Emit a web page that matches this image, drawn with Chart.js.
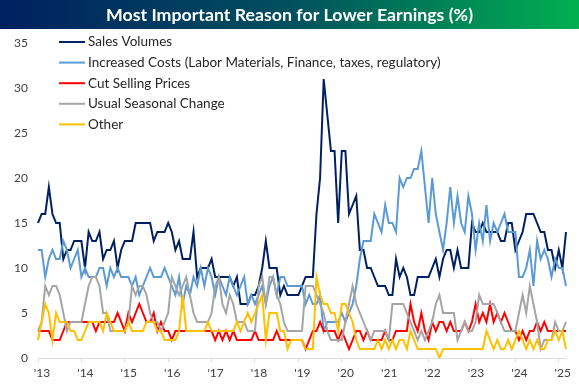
<!DOCTYPE html>
<html>
<head>
<meta charset="utf-8">
<script src="https://cdn.jsdelivr.net/npm/chart.js@4.4.1/dist/chart.umd.min.js"></script>
<style>
  html, body { margin: 0; padding: 0; background: #fff; }
</style>
</head>
<body>
<canvas id="Chart" width="579" height="390"></canvas>
<script>
// Year tick labels (one per January)
const tickLabels = ["'13", "'14", "'15", "'16", "'17", "'18", "'19", "'20", "'21", "'22", "'23", "'24", "'25"];

// Monthly series, Jan 2013 .. Mar 2025 (%)
const salesVolumes = [
  15, 16, 16, 19, 16, 15, 15, 11, 12, 12, 13, 13,
  13, 10, 14, 13, 13, 14, 11, 12, 12, 13, 10, 12,
  13, 13, 13, 15, 15, 15, 15, 15, 13, 14, 14, 14,
  15, 14, 12, 13, 11, 11, 11, 14, 9, 10, 10, 10,
  11, 9, 9, 9, 9, 9, 8, 9, 6, 6, 6, 7,
  7, 8, 10, 13, 10, 10, 10, 7, 8, 7, 7, 7,
  7, 8, 9, 9, 9, 16, 20, 31, 27, 23, 23, 15,
  23, 23, 16, 17, 18, 12, 12, 10, 10, 9, 8, 8,
  8, 7, 7, 11, 9, 10, 9, 7, 7, 9, 9, 9,
  9, 10, 11, 9, 11, 12, 12, 10, 12, 10, 10, 10,
  15, 14, 14, 15, 14, 14, 14, 14, 13, 13, 15, 15,
  12, 13, 14, 16, 16, 16, 15, 14, 14, 12, 12, 10,
  12, 10, 14
];
const increasedCosts = [
  12, 12, 9, 11, 12, 11, 11, 13, 12, 10, 11, 12,
  9, 10, 9, 9, 9, 10, 10, 8, 10, 9, 10, 9,
  9, 9, 8, 9, 7, 8, 9, 10, 9, 9, 9, 10,
  9, 8, 7, 9, 6, 8, 7, 9, 8, 10, 8, 10,
  9, 7, 9, 8, 7, 9, 8, 7, 8, 9, 6, 7,
  6, 7, 8, 6, 8, 9, 7, 9, 9, 8, 8, 8,
  8, 8, 6, 7, 6, 6, 7, 3, 4, 4, 4, 4,
  5, 4, 5, 6, 8, 11, 13, 13, 13, 16, 15, 14,
  17, 15, 15, 14, 20, 19, 20, 20, 21, 21, 23, 19,
  15, 20, 16, 14, 12, 15, 19, 15, 18, 15, 14, 18,
  16, 12, 15, 13, 17, 13, 15, 14, 15, 16, 14, 14,
  14, 9, 9, 10, 12, 8, 13, 11, 12, 11, 9, 11,
  10, 10, 8
];
const cutSellingPrices = [
  3, 3, 3, 3, 2, 2, 2, 3, 4, 4, 4, 4,
  4, 4, 4, 4, 3, 4, 4, 4, 4, 4, 5, 4,
  3, 5, 4, 5, 6, 5, 4, 4, 5, 3, 4, 3,
  3, 2, 3, 3, 3, 3, 3, 3, 3, 3, 3, 3,
  3, 2, 3, 2, 3, 2, 3, 2, 2, 2, 2, 2,
  3, 2, 2, 2, 2, 2, 3, 2, 2, 2, 2, 2,
  2, 2, 1, 2, 3, 3, 4, 3, 3, 3, 3, 2,
  3, 2, 1, 2, 3, 3, 2, 3, 2, 2, 2, 2,
  3, 2, 2, 3, 3, 3, 3, 6, 4, 3, 5, 3,
  2, 4, 3, 4, 4, 3, 4, 3, 3, 3, 4, 3,
  4, 6, 4, 5, 4, 6, 4, 5, 4, 5, 4, 3,
  3, 2, 3, 2, 3, 3, 4, 3, 4, 3, 3, 3,
  3, 3, 3
];
const seasonalChange = [
  3, 4, 8, 7, 8, 8, 7, 5, 3, 4, 4, 4,
  4, 6, 8, 9, 9, 8, 5, 5, 3, 3, 3, 3,
  3, 4, 8, 7, 8, 8, 7, 5, 4, 4, 3, 4,
  5, 9, 8, 7, 8, 9, 7, 5, 4, 4, 4, 4,
  5, 8, 9, 6, 5, 7, 6, 4, 4, 4, 3, 3,
  3, 8, 9, 6, 9, 9, 7, 6, 4, 3, 3, 3,
  3, 3, 8, 8, 8, 7, 6, 5, 3, 2, 2, 2,
  2, 4, 6, 8, 6, 5, 4, 3, 2, 3, 3, 3,
  3, 2, 6, 6, 6, 6, 5, 4, 3, 2, 3, 2,
  3, 4, 6, 7, 5, 5, 5, 5, 2, 3, 4, 3,
  3, 4, 7, 6, 6, 6, 6, 5, 4, 3, 3, 3,
  3, 5, 7, 5, 8, 6, 4, 1, 2, 2, 2, 4,
  3, 3, 4
];
const otherReasons = [
  2, 4, 6, 5, 2, 5, 4, 4, 4, 3, 3, 2,
  2, 3, 4, 4, 4, 4, 3, 5, 4, 3, 3, 3,
  3, 4, 3, 3, 3, 3, 4, 4, 4, 3, 3, 2,
  2, 2, 2, 3, 7, 3, 3, 3, 3, 3, 3, 4,
  3, 3, 3, 3, 3, 3, 3, 4, 3, 4, 5, 4,
  5, 6, 7, 2, 5, 5, 5, 3, 3, 1, 2, 2,
  2, 2, 1, 1, 1, 9, 7, 6, 6, 5, 5, 3,
  6, 6, 5, 4, 2, 1, 1, 1, 1, 1, 2, 1,
  2, 1, 2, 1, 2, 2, 1, 3, 2, 1, 1, 1,
  1, 1, 1, 0, 1, 1, 1, 1, 1, 1, 1, 1,
  1, 1, 1, 1, 3, 2, 1, 2, 1, 1, 2, 1,
  2, 3, 2, 1, 2, 1, 2, 1, 1, 2, 2, 3,
  2, 3, 1
];

const seriesNames = [
  'Sales Volumes',
  'Increased Costs (Labor Materials, Finance, taxes, regulatory)',
  'Cut Selling Prices',
  'Usual Seasonal Change',
  'Other'
];
const seriesColors = ['#002060', '#5B9BD5', '#FF0000', '#A5A5A5', '#FFC000'];
const seriesData = [salesVolumes, increasedCosts, cutSellingPrices, seasonalChange, otherReasons];

// one label per month
const months = salesVolumes.map((v, i) => (2013 + Math.floor(i / 12)) + '-' + (i % 12 + 1));

const FONT = 'Lato, "Open Sans", sans-serif';

// fit a font size so text reaches about the wanted width
function fitFont(ctx, text, width, weight, start) {
  let size = start;
  ctx.font = weight + ' ' + size + 'px ' + FONT;
  while (size > 6 && ctx.measureText(text).width > width) {
    size -= 0.25;
    ctx.font = weight + ' ' + size + 'px ' + FONT;
  }
  return size;
}

// Title bar across the top
const titleBar = {
  id: 'titleBar',
  beforeDraw(chart) {
    const ctx = chart.ctx;
    const w = chart.width;
    ctx.save();
    const g = ctx.createLinearGradient(0, 0, w, 0);
    g.addColorStop(0, '#002060');
    g.addColorStop(0.5, '#00505E');
    g.addColorStop(1, '#00B050');
    ctx.fillStyle = g;
    ctx.fillRect(0, 0, w, 29);
    const text = 'Most Important Reason for Lower Earnings (%)';
    fitFont(ctx, text, 368, 'bold', 19);
    ctx.fillStyle = '#FFFFFF';
    ctx.textAlign = 'center';
    ctx.textBaseline = 'middle';
    ctx.fillText(text, w / 2, 15);
    ctx.restore();
  }
};

// Legend drawn inside the plot, top left
const innerLegend = {
  id: 'innerLegend',
  afterDatasetsDraw(chart) {
    const ctx = chart.ctx;
    ctx.save();
    const size = fitFont(ctx, seriesNames[1], 359, 'normal', 15);
    ctx.textBaseline = 'middle';
    ctx.textAlign = 'left';
    seriesNames.forEach((name, i) => {
      const y = 42 + i * 20.6;
      ctx.strokeStyle = seriesColors[i];
      ctx.lineWidth = 2;
      ctx.beginPath();
      ctx.moveTo(59, y);
      ctx.lineTo(85, y);
      ctx.stroke();
      ctx.fillStyle = '#262626';
      ctx.font = 'normal ' + size + 'px ' + FONT;
      ctx.fillText(name, 88, y);
    });
    ctx.restore();
  }
};

const data = {
  labels: months,
  datasets: seriesNames.map((name, i) => ({
    label: name,
    data: seriesData[i],
    borderColor: seriesColors[i],
    backgroundColor: seriesColors[i],
    borderWidth: 2,
    pointRadius: 0,
    tension: 0,
    fill: false,
    order: 5 - i
  }))
};

const config = {
  type: 'line',
  data: data,
  options: {
    responsive: false,
    devicePixelRatio: 1,
    animation: false,
    layout: { padding: { top: 43, right: 13, left: 0, bottom: 0 } },
    plugins: {
      legend: { display: false },
      tooltip: { enabled: false },
      title: { display: false }
    },
    scales: {
      x: {
        type: 'category',
        offset: false,
        grid: {
          display: true,
          drawOnChartArea: false,
          drawTicks: true,
          tickLength: 4,
          color: '#D9D9D9'
        },
        border: { display: true, color: '#D9D9D9', width: 1 },
        ticks: {
          autoSkip: false,
          maxRotation: 0,
          minRotation: 0,
          padding: 4,
          labelOffset: 4,
          color: '#404040',
          font: { family: FONT, size: 12 },
          callback: (v, i) => (i % 12 === 0 ? tickLabels[i / 12] : null)
        },
        afterFit: (s) => { s.height = 32; }
      },
      y: {
        min: 0,
        max: 35,
        grid: { display: false, drawTicks: false },
        border: { display: false },
        ticks: {
          stepSize: 5,
          padding: 10,
          color: '#404040',
          font: { family: FONT, size: 12 }
        },
        afterFit: (s) => { s.width = 38; }
      }
    }
  },
  plugins: [titleBar, innerLegend]
};

window.addEventListener('load', () => {
  const ctx = document.getElementById('Chart');
  new Chart(ctx, config);
});
</script>
</body>
</html>
